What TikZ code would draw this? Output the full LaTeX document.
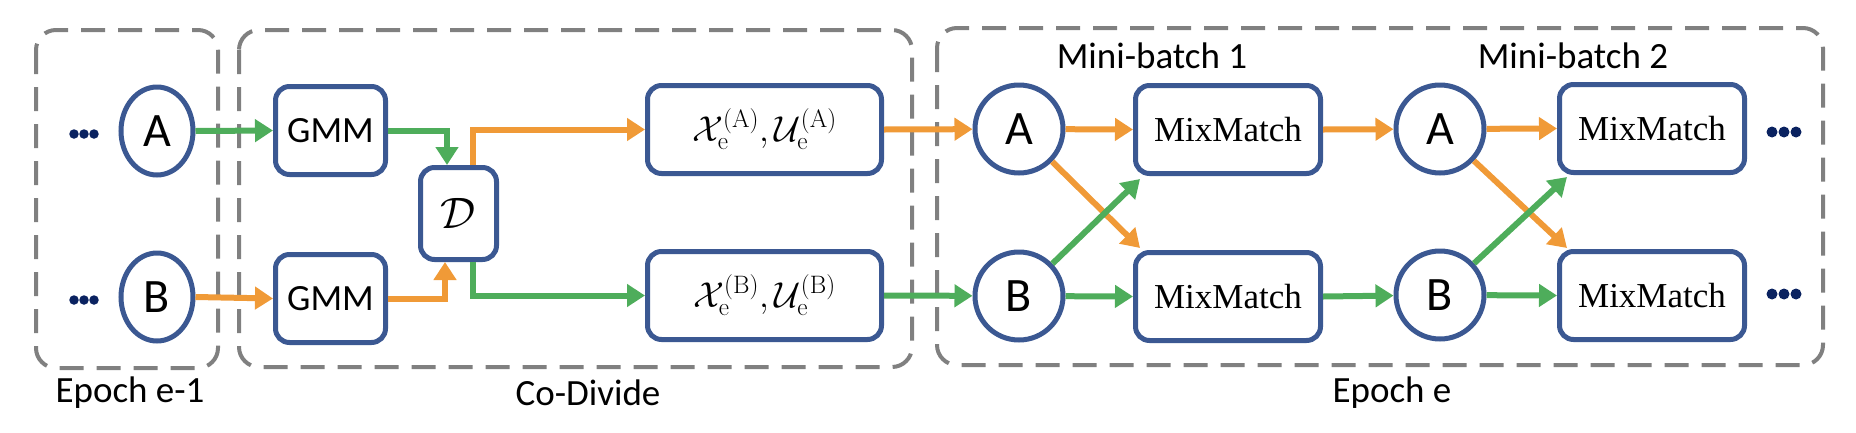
\RequirePackage{fix-cm}
\documentclass[tikz,border=0pt]{standalone}
\usepackage[no-math]{fontspec}
\setmainfont{Carlito}
\newfontfamily\mmfont{Liberation Serif}
\usetikzlibrary{arrows.meta,shapes.geometric,calc}
\definecolor{cblue}{HTML}{3B5892}
\definecolor{cgreen}{HTML}{4EAD5B}
\definecolor{corange}{HTML}{F09A37}
\definecolor{cgray}{HTML}{808080}
\definecolor{cnavy}{HTML}{0A2260}
\newcommand{\bigsc}[1]{\scriptstyle #1}
\begin{document}
\begin{tikzpicture}[x=1pt,y=-1pt,
  every node/.style={font=\fontsize{37}{44}\selectfont},
  bluebox/.style={draw=cblue,line width=5pt,rounded corners=14pt,inner sep=0pt,minimum height=88pt},
  ellnode/.style={ellipse,draw=cblue,line width=5pt,inner sep=0pt,minimum width=72pt,minimum height=88pt,font=\fontsize{48}{56}\selectfont},
  circnode/.style={circle,draw=cblue,line width=5pt,inner sep=0pt,minimum size=88pt,font=\fontsize{48}{56}\selectfont},
  mmnode/.style={bluebox,minimum width=185pt,font=\mmfont\fontsize{35}{42}\selectfont},
  mathnode/.style={bluebox,font=\fontsize{36}{44}\selectfont},
  garrow/.style={draw=cgreen,line width=6pt,-{Triangle[length=18pt,width=22pt]}},
  oarrow/.style={draw=corange,line width=6pt,-{Triangle[length=18pt,width=22pt]}},
  groupbox/.style={draw=cgray,line width=4pt,dash pattern=on 24pt off 13pt,rounded corners=20pt},
  dotn/.style={circle,fill=cnavy,inner sep=0pt,minimum size=10pt},
]
\useasboundingbox (0,0) rectangle (1856,432);
% group boxes
\draw[groupbox] (36,30) rectangle (218,368);
\draw[groupbox] (239,30) rectangle (912,367);
\draw[groupbox] (937,28) rectangle (1823,365);
\node (lab1) at (130,393) {Epoch e-1};
\node (lab2) at (588,393) {Co-Divide};
\node (lab3) at (1392,393) {Epoch e};
\node (lab4) at (1152,56) {Mini-batch 1};
\node (lab5) at (1573,56) {Mini-batch 2};
% dots
\foreach \x/\n in {74/1,84/2,94/3}{
  \node[dotn,minimum size=9.5pt] (dla\n) at (\x,134) {};
  \node[dotn,minimum size=9.5pt] (dlb\n) at (\x,300) {};
}
\foreach \x/\n in {1772/1,1784/2,1796/3}{
  \node[dotn,minimum size=11pt] (dra\n) at (\x,132) {};
  \node[dotn,minimum size=11pt] (drb\n) at (\x,294) {};
}
% nodes
\node[ellnode] (eA) at (157,131) {A};
\node[ellnode] (eB) at (157,297) {B};
\node[bluebox,minimum width=110pt] (g1) at (330.5,130.5) {GMM};
\node[bluebox,minimum width=110pt] (g2) at (330.5,298.5) {GMM};
\node[mathnode,minimum width=76pt,minimum height=92pt,font=\fontsize{44}{52}\selectfont] (D) at (458.5,213.5) {$\mathcal{D}$};
\node[mathnode,minimum width=234pt] (xa) at (764.5,129.5) {$\mathcal{X}_{\mathrm{e}}^{(\mathrm{A})},\mathcal{U}_{\mathrm{e}}^{(\mathrm{A})}$};
\node[mathnode,minimum width=234pt] (xb) at (764.5,295.5) {$\mathcal{X}_{\mathrm{e}}^{(\mathrm{B})},\mathcal{U}_{\mathrm{e}}^{(\mathrm{B})}$};
\node[circnode] (A1) at (1019,129) {A};
\node[circnode] (B1) at (1019,296) {B};
\node[mmnode] (m1) at (1228,129.5) {MixMatch};
\node[mmnode] (m2) at (1228,296.5) {MixMatch};
\node[circnode] (A2) at (1440,129) {A};
\node[circnode] (B2) at (1440,295) {B};
\node[mmnode] (n1) at (1652,128.5) {MixMatch};
\node[mmnode] (n2) at (1652,295.5) {MixMatch};
% connectors
\draw[garrow] (eA.east) -- (g1.west);
\draw[oarrow] (eB.east) -- (g2.west);
\draw[garrow] (g1.east) -| ([xshift=-11.5pt]D.north);
\draw[oarrow] (g2.east) -| ([xshift=-13.5pt]D.south);
\draw[oarrow] ([xshift=14.5pt]D.north) |- (xa.west);
\draw[garrow] ([xshift=14.5pt]D.south) |- (xb.west);
\draw[oarrow] (xa.east) -- (A1);
\draw[garrow] (xb.east) -- (B1);
\draw[oarrow] (A1) -- (m1.west);
\draw[oarrow] (A1) -- ([xshift=7pt,yshift=2pt]m2.north west);
\draw[garrow] (B1) -- ([xshift=7pt,yshift=-3pt]m1.south west);
\draw[garrow] (B1) -- (m2.west);
\draw[oarrow] (m1.east) -- (A2);
\draw[garrow] (m2.east) -- (B2);
\draw[oarrow] (A2) -- (n1.west);
\draw[oarrow] (A2) -- ([xshift=10pt,yshift=1pt]n2.north west);
\draw[garrow] (B2) -- ([xshift=10pt,yshift=-2pt]n1.south west);
\draw[garrow] (B2) -- (n2.west);
\end{tikzpicture}
\end{document}
